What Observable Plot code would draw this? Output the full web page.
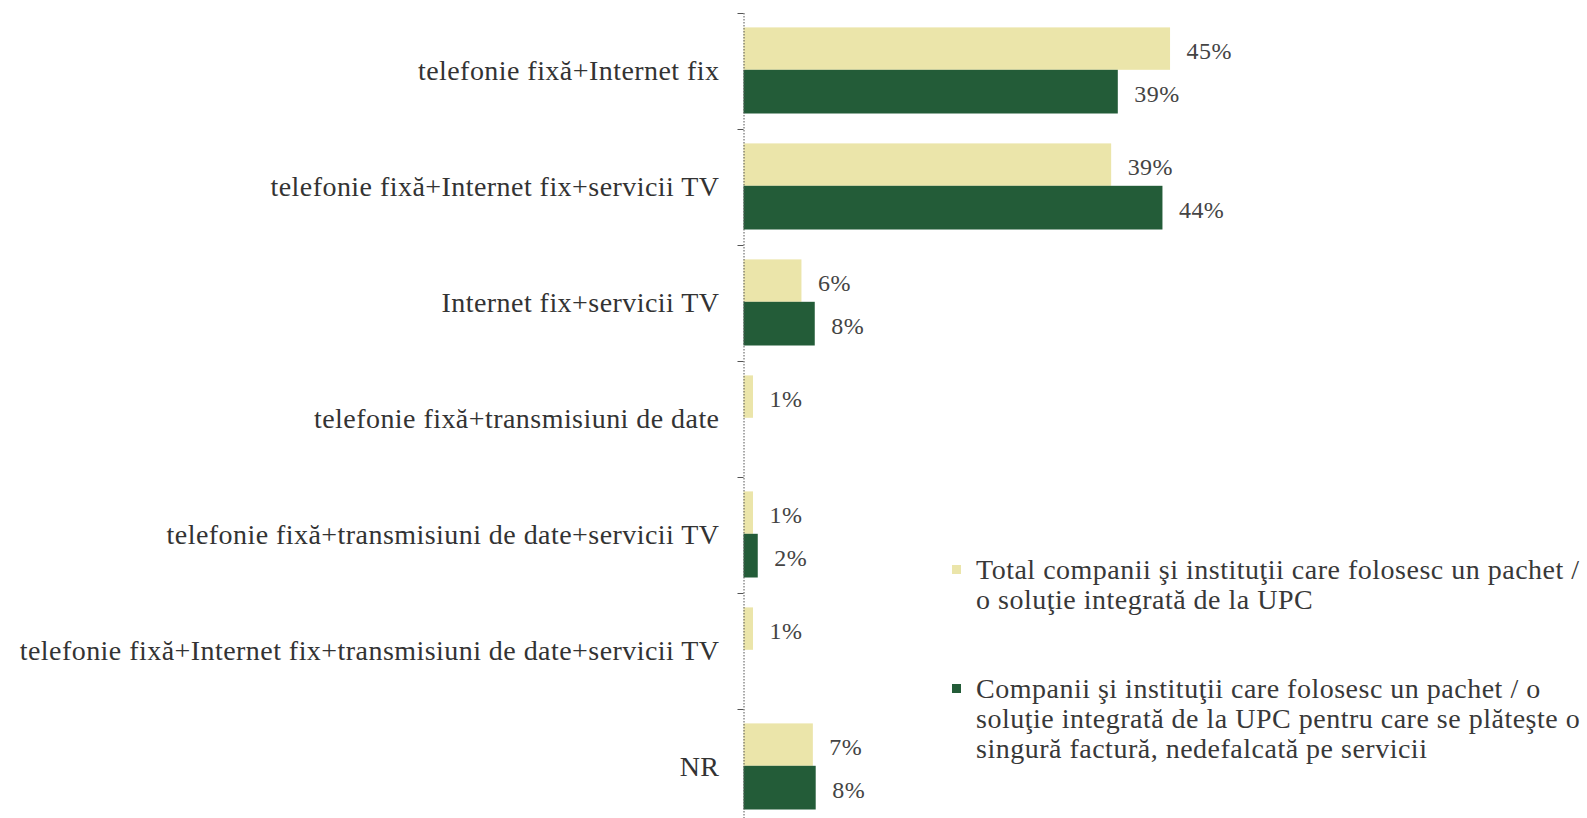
<!DOCTYPE html>
<html><head><meta charset="utf-8">
<script src="https://cdn.jsdelivr.net/npm/d3@7"></script>
<script src="https://cdn.jsdelivr.net/npm/@observablehq/plot@0.6"></script>
<style>
html,body{margin:0;padding:0;background:#fff;}
#wrap{position:relative;width:1587px;height:818px;font-family:"Liberation Serif",serif;}
#wrap svg text{letter-spacing:0.45px;}
#legend{position:absolute;left:952px;top:555px;color:#383838;font-size:28px;line-height:30px;letter-spacing:0.5px;}
.item{position:relative;padding-left:24px;white-space:pre;}
.item + .item{margin-top:59px;}
.sw{position:absolute;left:0;top:10px;width:9px;height:9px;}
</style></head><body><div id="wrap"><div id="legend"></div></div>
<script>
const categories = [
  "telefonie fixă+Internet fix",
  "telefonie fixă+Internet fix+servicii TV",
  "Internet fix+servicii TV",
  "telefonie fixă+transmisiuni de date",
  "telefonie fixă+transmisiuni de date+servicii TV",
  "telefonie fixă+Internet fix+transmisiuni de date+servicii TV",
  "NR"
];
const seriesNames = [
  "Total companii şi instituţii care folosesc un pachet /\no soluţie integrată de la UPC",
  "Companii şi instituţii care folosesc un pachet / o\nsoluţie integrată de la UPC pentru care se plăteşte o\nsingură factură, nedefalcată pe servicii"
];
const totalValues = [44.9, 38.7, 6.1, 1.0, 1.0, 1.0, 7.3];
const singleInvoiceValues = [39.4, 44.1, 7.5, null, 1.5, null, 7.6];
const colors = ["#ebe5aa", "#235c38"];

const rows = categories.map((c, i) => ({category: c, total: totalValues[i], single: singleInvoiceValues[i]}));
const singleRows = rows.filter(d => d.single != null);
const fmt = v => Math.round(v) + "%";

const chart = Plot.plot({
  width: 1587, height: 818,
  marginLeft: 743.5, marginRight: 368.5, marginTop: 13, marginBottom: 0,
  style: {fontFamily: '"Liberation Serif", serif', background: "#fff"},
  x: {domain: [0, 50], axis: null},
  y: {domain: categories, range: [13.3, 825.3], padding: 0},
  marks: [
    Plot.barX(rows, {y: "category", x: "total", fill: colors[0], insetTop: 14.4, insetBottom: 59.2}),
    Plot.barX(singleRows, {y: "category", x: "single", fill: colors[1], insetTop: 56.8, insetBottom: 15.5}),
    Plot.ruleX([0], {stroke: "#555", strokeDasharray: "1.5,1.5"}),
    Plot.ruleY(categories, {y: d => d, x1: 0, x2: 0, insetLeft: -6, dy: -58, stroke: "#555"}),
    Plot.axisY({tickSize: 0, tickPadding: 24.5, fontSize: 28, fill: "#333", label: null}),
    Plot.text(rows, {y: "category", x: "total", text: d => fmt(d.total), dx: 16, dy: -20, textAnchor: "start", fontSize: 24, fill: "#444"}),
    Plot.text(singleRows, {y: "category", x: "single", text: d => fmt(d.single), dx: 16, dy: 23, textAnchor: "start", fontSize: 24, fill: "#444"})
  ]
});
const wrap = document.getElementById("wrap");
wrap.insertBefore(chart, wrap.firstChild);

const legend = document.getElementById("legend");
seriesNames.forEach((name, i) => {
  const item = document.createElement("div");
  item.className = "item";
  const sw = document.createElement("span");
  sw.className = "sw";
  sw.style.background = colors[i];
  item.appendChild(sw);
  item.appendChild(document.createTextNode(name));
  legend.appendChild(item);
});
</script></body></html>
